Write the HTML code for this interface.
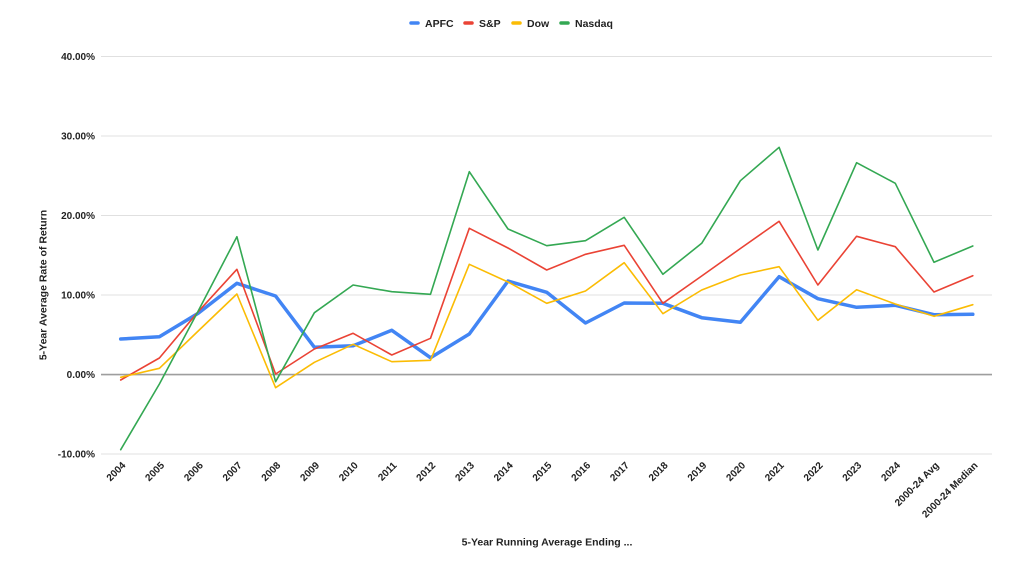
<!DOCTYPE html>
<html><head><meta charset="utf-8"><style>
html,body{margin:0;padding:0;background:#fff;}
svg{display:block;font-family:"Liberation Sans",Arial,sans-serif;}
</style></head><body>
<svg width="1024" height="562" viewBox="0 0 1024 562" xmlns="http://www.w3.org/2000/svg">
<rect width="1024" height="562" fill="#fff"/>
<!-- legend -->
<g font-size="10.5" font-weight="bold" fill="#222">
<line x1="411" y1="23" x2="418" y2="23" stroke="#4285F4" stroke-width="3.5" stroke-linecap="round"/>
<text x="425" y="27">APFC</text>
<line x1="465" y1="23" x2="472" y2="23" stroke="#EA4335" stroke-width="3.5" stroke-linecap="round"/>
<text x="479" y="27">S&amp;P</text>
<line x1="513" y1="23" x2="520" y2="23" stroke="#FBBC04" stroke-width="3.5" stroke-linecap="round"/>
<text x="527" y="27">Dow</text>
<line x1="561" y1="23" x2="568" y2="23" stroke="#34A853" stroke-width="3.5" stroke-linecap="round"/>
<text x="575" y="27">Nasdaq</text>
</g>
<!-- gridlines -->
<g stroke="#e0e0e0" stroke-width="1">
<line x1="101" y1="56.5" x2="992" y2="56.5"/>
<line x1="101" y1="136" x2="992" y2="136"/>
<line x1="101" y1="215.5" x2="992" y2="215.5"/>
<line x1="101" y1="295" x2="992" y2="295"/>
<line x1="101" y1="454" x2="992" y2="454"/>
</g>
<line x1="101" y1="374.6" x2="992" y2="374.6" stroke="#9e9e9e" stroke-width="1.6"/>
<!-- y tick labels -->
<g font-size="10" font-weight="bold" fill="#222" text-anchor="end">
<text x="95" y="60">40.00%</text>
<text x="95" y="139.5">30.00%</text>
<text x="95" y="219">20.00%</text>
<text x="95" y="298.5">10.00%</text>
<text x="95" y="378">0.00%</text>
<text x="95" y="457.5">-10.00%</text>
</g>
<!-- y axis title -->
<text transform="translate(46.5,285) rotate(-90)" text-anchor="middle" font-size="10.5" font-weight="bold" fill="#222">5-Year Average Rate of Return</text>
<!-- x axis title -->
<text x="547" y="545.5" text-anchor="middle" font-size="10.5" font-weight="bold" fill="#222">5-Year Running Average Ending ...</text>
<!-- x labels -->
<g font-size="10" font-weight="bold" fill="#222" text-anchor="end">
<text transform="translate(126.2,466) rotate(-45)">2004</text>
<text transform="translate(164.9,466) rotate(-45)">2005</text>
<text transform="translate(203.7,466) rotate(-45)">2006</text>
<text transform="translate(242.4,466) rotate(-45)">2007</text>
<text transform="translate(281.1,466) rotate(-45)">2008</text>
<text transform="translate(319.9,466) rotate(-45)">2009</text>
<text transform="translate(358.6,466) rotate(-45)">2010</text>
<text transform="translate(397.3,466) rotate(-45)">2011</text>
<text transform="translate(436,466) rotate(-45)">2012</text>
<text transform="translate(474.8,466) rotate(-45)">2013</text>
<text transform="translate(513.5,466) rotate(-45)">2014</text>
<text transform="translate(552.2,466) rotate(-45)">2015</text>
<text transform="translate(591,466) rotate(-45)">2016</text>
<text transform="translate(629.7,466) rotate(-45)">2017</text>
<text transform="translate(668.4,466) rotate(-45)">2018</text>
<text transform="translate(707.2,466) rotate(-45)">2019</text>
<text transform="translate(745.9,466) rotate(-45)">2020</text>
<text transform="translate(784.6,466) rotate(-45)">2021</text>
<text transform="translate(823.4,466) rotate(-45)">2022</text>
<text transform="translate(862.1,466) rotate(-45)">2023</text>
<text transform="translate(900.8,466) rotate(-45)">2024</text>
<text transform="translate(939.5,466) rotate(-45)">2000-24 Avg</text>
<text transform="translate(978.3,466) rotate(-45)">2000-24 Median</text>
</g>
<!-- series -->
<g fill="none" stroke-linejoin="round" stroke-linecap="round">
<polyline stroke="#4285F4" stroke-width="3.5" points="120.7,339 159.4,336.7 198.2,313.3 236.9,283.3 275.6,296 314.4,347.3 353.1,345.7 391.8,330.3 430.5,357.7 469.3,334 508,281 546.7,292.3 585.5,323 624.2,303 662.9,303.3 701.7,317.7 740.4,322.3 779.1,276.7 817.9,298.7 856.6,307.3 895.3,305.3 934,314.7 972.8,314.3"/>
<polyline stroke="#EA4335" stroke-width="1.6" points="120.7,380 159.4,358 198.2,311.7 236.9,269.3 275.6,374 314.4,349 353.1,333.3 391.8,355 430.5,338.3 469.3,228.3 508,248 546.7,270 585.5,254.3 624.2,245.3 662.9,303.3 701.7,276 740.4,248.5 779.1,221.3 817.9,285 856.6,236.3 895.3,246.7 934,292 972.8,275.7"/>
<polyline stroke="#FBBC04" stroke-width="1.6" points="120.7,377.3 159.4,368.3 198.2,331 236.9,294 275.6,387.7 314.4,362.3 353.1,344.3 391.8,361.7 430.5,360.3 469.3,264.3 508,282 546.7,303.3 585.5,291 624.2,262.7 662.9,313.7 701.7,290 740.4,275 779.1,266.7 817.9,320.3 856.6,289.7 895.3,304 934,316.3 972.8,304.7"/>
<polyline stroke="#34A853" stroke-width="1.6" points="120.7,449.7 159.4,384 198.2,311 236.9,236.7 275.6,381.7 314.4,312.7 353.1,285 391.8,291.7 430.5,294.3 469.3,171.7 508,229 546.7,245.7 585.5,240.7 624.2,217.3 662.9,274.3 701.7,243.3 740.4,180.7 779.1,147.3 817.9,250 856.6,162.7 895.3,183.3 934,262.3 972.8,246"/>
</g>
</svg>
</body></html>
